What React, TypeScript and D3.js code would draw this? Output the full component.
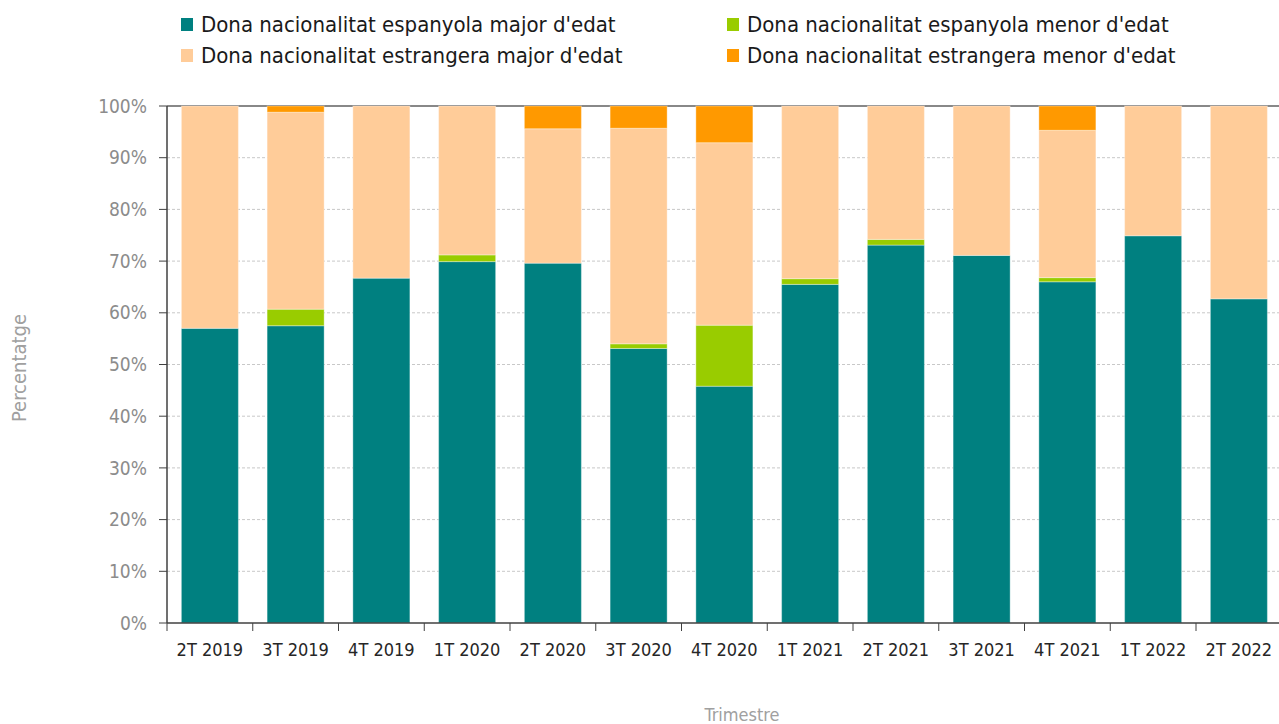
import { scaleBand, scaleLinear, stack } from 'd3'

const width = 1279
const height = 724

const categories = [
  '2T 2019', '3T 2019', '4T 2019', '1T 2020', '2T 2020', '3T 2020', '4T 2020',
  '1T 2021', '2T 2021', '3T 2021', '4T 2021', '1T 2022', '2T 2022',
]
const espMajor = [57.0, 57.5, 66.7, 69.9, 69.6, 53.1, 45.8, 65.5, 73.1, 71.1, 66.0, 74.9, 62.7]
const espMenor = [0, 3.2, 0, 1.3, 0, 0.9, 11.8, 1.1, 1.1, 0, 0.8, 0, 0]
const estMajor = [43.0, 38.1, 33.3, 28.8, 26.0, 41.7, 35.3, 33.4, 25.8, 28.9, 28.5, 25.1, 37.3]
const estMenor = [0, 1.2, 0, 0, 4.4, 4.3, 7.1, 0, 0, 0, 4.7, 0, 0]

const seriesNames = [
  "Dona nacionalitat espanyola major d'edat",
  "Dona nacionalitat espanyola menor d'edat",
  "Dona nacionalitat estrangera major d'edat",
  "Dona nacionalitat estrangera menor d'edat",
]
const seriesKeys = ['espMajor', 'espMenor', 'estMajor', 'estMenor']
const colors = ['#008080', '#99cc00', '#ffcc99', '#ff9900']
const yTicks = [0, 10, 20, 30, 40, 50, 60, 70, 80, 90, 100]

const rows = categories.map((c, i) => ({
  cat: c,
  espMajor: espMajor[i],
  espMenor: espMenor[i],
  estMajor: estMajor[i],
  estMenor: estMenor[i],
}))

const left = 167
const top = 106
const bottom = 623
const step = 85.75
const right = left + step * categories.length

const x = scaleBand().domain(categories).range([left, right]).paddingInner(0.335).paddingOuter(0.1675)
const y = scaleLinear().domain([0, 100]).range([bottom, top])

const font = "'DejaVu Sans Condensed', 'Liberation Sans Narrow', sans-serif"

function App() {
  const layers = stack().keys(seriesKeys)(rows as any)
  const bounds = categories.map((_, i) => left + i * step)

  return (
    <svg width={width} height={height} style={{ position: 'absolute', left: 0, top: 0 }} fontFamily={font}>
      {/* gridlines */}
      {yTicks.slice(1, -1).map((t) => (
        <line key={t} x1={left} x2={width} y1={y(t)} y2={y(t)} stroke="#c8c8c8" strokeDasharray="3,2" />
      ))}
      <line x1={left} x2={width} y1={y(100)} y2={y(100)} stroke="#888" strokeWidth={2} />

      {layers.map((layer, li) => (
        <g key={seriesKeys[li]} fill={colors[li]}>
          {layer.map((d, i) =>
            d[1] - d[0] > 0 ? (
              <rect
                key={i}
                x={x(categories[i])}
                width={x.bandwidth()}
                y={y(d[1])}
                height={y(d[0]) - y(d[1])}
                stroke="#fff"
                strokeOpacity={0.35}
              />
            ) : null
          )}
        </g>
      ))}

      {/* y axis */}
      <line x1={left} x2={left} y1={top} y2={bottom} stroke="#404040" strokeWidth={1.5} />
      {yTicks.map((t) => (
        <g key={t}>
          <line x1={left - 8} x2={left} y1={y(t)} y2={y(t)} stroke="#404040" />
          <text x={left - 20} y={y(t)} dy="0.35em" textAnchor="end" fontSize={19} fill="#8c8c8c">
            {t}%
          </text>
        </g>
      ))}

      {/* x axis */}
      <line x1={left} x2={width} y1={bottom} y2={bottom} stroke="#404040" strokeWidth={1.5} />
      {bounds.map((b, i) => (
        <line key={i} x1={b} x2={b} y1={bottom} y2={bottom + 8} stroke="#404040" />
      ))}
      {categories.map((c) => (
        <text key={c} x={x(c)! + x.bandwidth() / 2} y={bottom + 33} textAnchor="middle" fontSize={18} fill="#262626">
          {c}
        </text>
      ))}

      <text x={742} y={721} textAnchor="middle" fontSize={18} fill="#a0a0a0">
        Trimestre
      </text>
      <text transform="translate(26,368) rotate(-90)" textAnchor="middle" fontSize={20} fill="#a0a0a0">
        Percentatge
      </text>

      {/* legend */}
      {seriesNames.map((name, i) => {
        const col = i % 2
        const row = Math.floor(i / 2)
        const lx = col === 0 ? 181 : 727
        const ly = row === 0 ? 24 : 55
        return (
          <g key={name}>
            <rect x={lx} y={ly - 6} width={12} height={13} fill={colors[i]} />
            <text x={lx + 20} y={ly} dy="0.35em" fontSize={22} fill="#1a1a1a">
              {name}
            </text>
          </g>
        )
      })}
    </svg>
  )
}

export default App
